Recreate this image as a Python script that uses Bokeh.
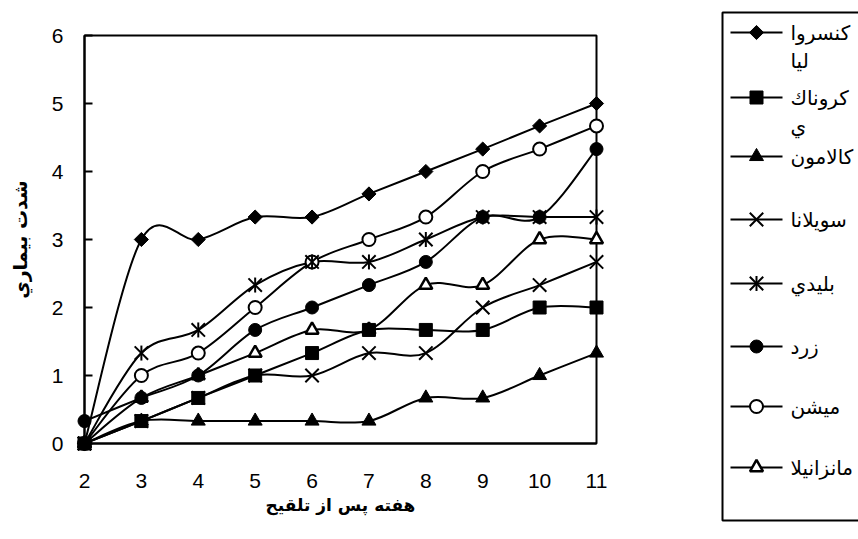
import numpy as np
from bokeh.plotting import figure
from bokeh.models import Range1d, FixedTicker, ColumnDataSource
from bokeh.embed import file_html
from bokeh.resources import INLINE
from bokeh.core.properties import value

# ---------------- data ----------------
weeks = [2, 3, 4, 5, 6, 7, 8, 9, 10, 11]
y_ticks = [0, 1, 2, 3, 4, 5, 6]

conservolia = [0, 3.0, 3.0, 3.33, 3.33, 3.67, 4.0, 4.33, 4.67, 5.0]
koroneiki = [0, 0.33, 0.67, 1.0, 1.33, 1.67, 1.67, 1.67, 2.0, 2.0]
kalamon = [0, 0.33, 0.33, 0.33, 0.33, 0.33, 0.67, 0.67, 1.0, 1.33]
sevillana = [0, 0.33, 0.67, 1.0, 1.0, 1.33, 1.33, 2.0, 2.33, 2.67]
blidi = [0, 1.33, 1.67, 2.33, 2.67, 2.67, 3.0, 3.33, 3.33, 3.33]
zard = [0.33, 0.67, 1.0, 1.67, 2.0, 2.33, 2.67, 3.33, 3.33, 4.33]
mission = [0, 1.0, 1.33, 2.0, 2.67, 3.0, 3.33, 4.0, 4.33, 4.67]
manzanilla = [0, 0.67, 1.0, 1.33, 1.67, 1.67, 2.33, 2.33, 3.0, 3.0]

series_values = [conservolia, koroneiki, kalamon, sevillana, blidi, zard, mission, manzanilla]
legend_labels = [
    ["كنسروا", "ليا"],
    ["كروناك", "ي"],
    ["كالامون"],
    ["سويلانا"],
    ["بليدي"],
    ["زرد"],
    ["ميشن"],
    ["مانزانيلا"],
]
x_title = "هفته پس از تلقيح"
y_title = "شدت بيماري"

# ---------------- styles (each marker = list of drawn layers) ----------------
def layer(marker, size, angle=0.0, fill_color="black", line_width=1.0):
    return dict(marker=marker, size=size, angle=angle, fill_color=fill_color, line_width=line_width)

marker_styles = [
    [layer("square", 10, np.pi / 4)],                                  # diamond
    [layer("square", 13)],                                             # filled square
    [layer("triangle", 14)],                                           # filled triangle
    [layer("x", 19, line_width=2)],                                    # x
    [layer("x", 19, line_width=2), layer("dash", 15, np.pi / 2, line_width=2)],  # asterisk
    [layer("circle", 13)],                                             # filled circle
    [layer("circle", 13, fill_color="white", line_width=2)],           # open circle
    [layer("triangle", 13, fill_color="white", line_width=2.5)],       # open triangle
]
NUM_FONT = "Liberation Sans"
AR_FONT = "DejaVu Sans"

W, H = 858, 539
F_LEFT, F_RIGHT, F_TOP, F_BOTTOM = 84, 596, 35, 443   # plot frame, in pixels


def smooth_segments(xs, ys):
    xs = np.asarray(xs, float)
    ys = np.asarray(ys, float)
    n = len(xs)
    out = dict(x0=[], y0=[], x1=[], y1=[], cx0=[], cy0=[], cx1=[], cy1=[])
    for i in range(n - 1):
        i0, i3 = max(i - 1, 0), min(i + 2, n - 1)
        out["x0"].append(xs[i]); out["y0"].append(ys[i])
        out["x1"].append(xs[i + 1]); out["y1"].append(ys[i + 1])
        out["cx0"].append(xs[i] + (xs[i + 1] - xs[i0]) / 6)
        out["cy0"].append(ys[i] + (ys[i + 1] - ys[i0]) / 6)
        out["cx1"].append(xs[i + 1] - (xs[i3] - xs[i]) / 6)
        out["cy1"].append(ys[i + 1] - (ys[i3] - ys[i]) / 6)
    return out


# ---------------- chart ----------------
p = figure(width=W, height=H, output_backend="svg", toolbar_location=None,
           x_range=Range1d(weeks[0], weeks[-1]), y_range=Range1d(y_ticks[0], y_ticks[-1]))
p.min_border_left = F_LEFT
p.min_border_right = W - F_RIGHT
p.min_border_top = F_TOP
p.min_border_bottom = H - F_BOTTOM
# pixel-based ranges for the legend panel
p.extra_x_ranges = {"px": Range1d(F_LEFT, F_RIGHT)}
p.extra_y_ranges = {"px": Range1d(F_BOTTOM, F_TOP)}
p.background_fill_color = "white"
p.border_fill_color = "white"
p.outline_line_color = "black"
p.outline_line_width = 2
p.xgrid.visible = False
p.ygrid.visible = False

for vals in reversed(series_values):
    src = ColumnDataSource(smooth_segments(weeks, vals))
    p.bezier(x0="x0", y0="y0", x1="x1", y1="y1", cx0="cx0", cy0="cy0",
             cx1="cx1", cy1="cy1", source=src, line_color="black", line_width=2)

for vals, layers in reversed(list(zip(series_values, marker_styles))):
    for st in layers:
        p.scatter(weeks, vals, marker=st["marker"], size=st["size"], angle=st["angle"],
                  fill_color=st["fill_color"], line_color="black",
                  line_width=st["line_width"], level="overlay")

xa = p.xaxis[0]
xa.ticker = FixedTicker(ticks=weeks)
xa.major_tick_in = 0
xa.major_tick_out = 0
xa.minor_tick_line_color = None
xa.axis_line_color = "black"
xa.axis_line_width = 2
xa.major_label_text_font = NUM_FONT
xa.major_label_text_font_size = "21px"
xa.major_label_text_color = "black"
xa.major_label_standoff = 30
xa.axis_label = x_title
xa.axis_label_text_font = AR_FONT
xa.axis_label_text_font_style = "bold"
xa.axis_label_text_font_size = "17px"
xa.axis_label_text_color = "black"
xa.axis_label_standoff = 4

ya = p.yaxis[0]
ya.ticker = FixedTicker(ticks=y_ticks)
ya.major_tick_in = 8
ya.major_tick_out = 0
ya.major_tick_line_width = 2
ya.minor_tick_line_color = None
ya.axis_line_color = "black"
ya.axis_line_width = 2
ya.major_label_text_font = NUM_FONT
ya.major_label_text_font_size = "21px"
ya.major_label_text_color = "black"
ya.major_label_standoff = 21
ya.axis_label = y_title
ya.axis_label_text_font = AR_FONT
ya.axis_label_text_font_style = "bold"
ya.axis_label_text_font_size = "19px"
ya.axis_label_text_color = "black"
ya.axis_label_standoff = 18

# ---------------- legend (pixel coordinates) ----------------
box_left, box_top, box_bottom = 722, 12, 520
p.quad(left=[box_left], right=[W + 20], top=[box_top], bottom=[box_bottom],
       fill_color=None, line_color="black", line_width=2,
       x_range_name="px", y_range_name="px", level="guide")

LEG_X0, LEG_X1, LEG_MARK_X, LEG_TEXT_X = 730, 782, 756, 790
entry_ys = [32, 97, 156, 219, 283, 346, 406, 467]
WRAP_DY = 28

for yy, labels in zip(entry_ys, legend_labels):
    p.segment(x0=[LEG_X0], y0=[yy], x1=[LEG_X1], y1=[yy], line_color="black",
              line_width=2, x_range_name="px", y_range_name="px", level="guide")
    for j, lab in enumerate(labels):
        p.text(x=[LEG_TEXT_X], y=[yy + j * WRAP_DY], text=[lab], text_font=value(AR_FONT),
               text_font_size="20px", text_align="left", text_baseline="middle",
               text_color="black", x_range_name="px", y_range_name="px", level="overlay")

# legend swatch markers; a final fully transparent wide entry keeps the swatches
# (which sit outside the plot frame) from being culled by the view
cols = dict(x=[], y=[], marker=[], size=[], angle=[], fill=[], lw=[], alpha=[])
for yy, layers in zip(entry_ys, marker_styles):
    for st in layers:
        cols["x"].append(LEG_MARK_X); cols["y"].append(yy)
        cols["marker"].append(st["marker"]); cols["size"].append(st["size"])
        cols["angle"].append(st["angle"]); cols["fill"].append(st["fill_color"])
        cols["lw"].append(st["line_width"]); cols["alpha"].append(1.0)
cols["x"].append(LEG_MARK_X); cols["y"].append(entry_ys[len(entry_ys) // 2])
cols["marker"].append("circle"); cols["size"].append(400); cols["angle"].append(0.0)
cols["fill"].append("white"); cols["lw"].append(0.0); cols["alpha"].append(0.0)
p.scatter(x="x", y="y", marker="marker", size="size", angle="angle", fill_color="fill",
          line_color="black", line_width="lw", fill_alpha="alpha", line_alpha="alpha",
          source=ColumnDataSource(cols), x_range_name="px", y_range_name="px", level="overlay")

open("out.html", "w").write(file_html(p, INLINE))
